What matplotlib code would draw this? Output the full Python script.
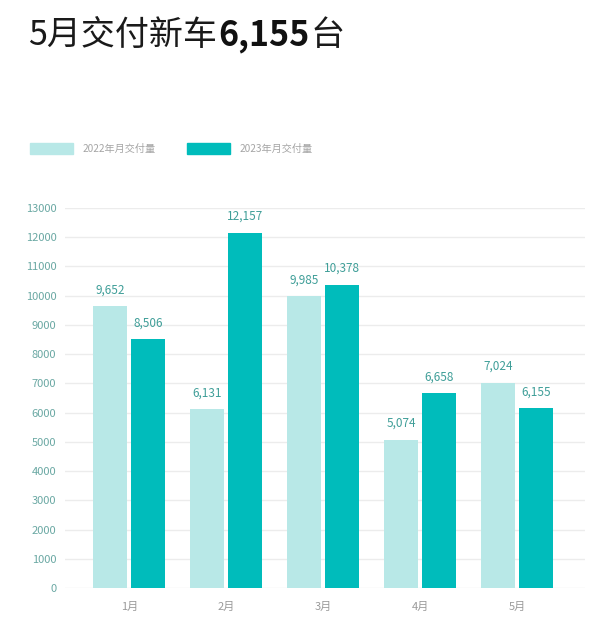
import matplotlib
matplotlib.use('Agg')
import numpy as np
import matplotlib.pyplot as plt
from matplotlib.patches import Rectangle

plt.rcParams['font.family'] = ['Noto Sans CJK SC', 'DejaVu Sans']

months = ['1月', '2月', '3月', '4月', '5月']
sales_2022 = [9652, 6131, 9985, 5074, 7024]
sales_2023 = [8506, 12157, 10378, 6658, 6155]
series_names = ['2022年月交付量', '2023年月交付量']
yticks = list(range(0, 14000, 1000))

light = '#b8e8e7'
dark = '#00bcbb'
label_col = '#3f9e98'


def main():
    fig = plt.figure(figsize=(6, 6.19), dpi=100)
    ax = fig.add_axes([0.108, 0.050, 0.867, 0.614])

    x = np.arange(len(months))
    w = 0.35
    gap = 0.02
    b1 = ax.bar(x - w / 2 - gap, sales_2022, w, color=light, zorder=2)
    b2 = ax.bar(x + w / 2 + gap, sales_2023, w, color=dark, zorder=2)

    for bars, vals in ((b1, sales_2022), (b2, sales_2023)):
        for r, v in zip(bars, vals):
            ax.text(r.get_x() + r.get_width() / 2, v + 330, f"{v:,}",
                    ha='center', va='bottom', fontsize=8.5, color=label_col,
                    clip_on=False)

    ax.set_ylim(0, 13000)
    ax.set_xlim(-0.665, 4.70)
    ax.set_yticks(yticks)
    ax.set_xticks(x)
    ax.set_xticklabels(months)
    ax.grid(axis='y', color='#ececec', lw=1, zorder=0)
    for s in ax.spines.values():
        s.set_visible(False)
    ax.tick_params(length=0)
    ax.tick_params(axis='y', colors='#6aa8a3', labelsize=8, pad=6)
    ax.tick_params(axis='x', colors='#9a9a9a', labelsize=8, pad=10)

    # legend drawn by hand
    for i, (name, col) in enumerate(zip(series_names, (light, dark))):
        x0 = 30 / 600 + i * 157 / 600
        fig.patches.append(Rectangle((x0, 1 - 154 / 619), 43 / 600, 11 / 619,
                                     transform=fig.transFigure, color=col))
        fig.text(x0 + 53 / 600, 1 - 149 / 619, name, fontsize=7.3,
                 color='#a5a5a5', va='center')

    # title in three pieces
    t1 = fig.text(28 / 600, 1 - 45 / 619, '5月交付新车', fontsize=24.5,
                  color='#1a1a1a', va='baseline')
    t2 = ax.annotate('6,155', xy=(1, 0), xycoords=t1, xytext=(1, 0),
                     textcoords='offset points', fontsize=24.5,
                     fontweight='bold', color='#111111', va='bottom',
                     annotation_clip=False)
    ax.annotate('台', xy=(1, 0), xycoords=t2, xytext=(1, 0),
                textcoords='offset points', fontsize=24.5, color='#1a1a1a',
                va='bottom', annotation_clip=False)

    fig.savefig('out.png', dpi=100)


if __name__ == '__main__':
    main()
